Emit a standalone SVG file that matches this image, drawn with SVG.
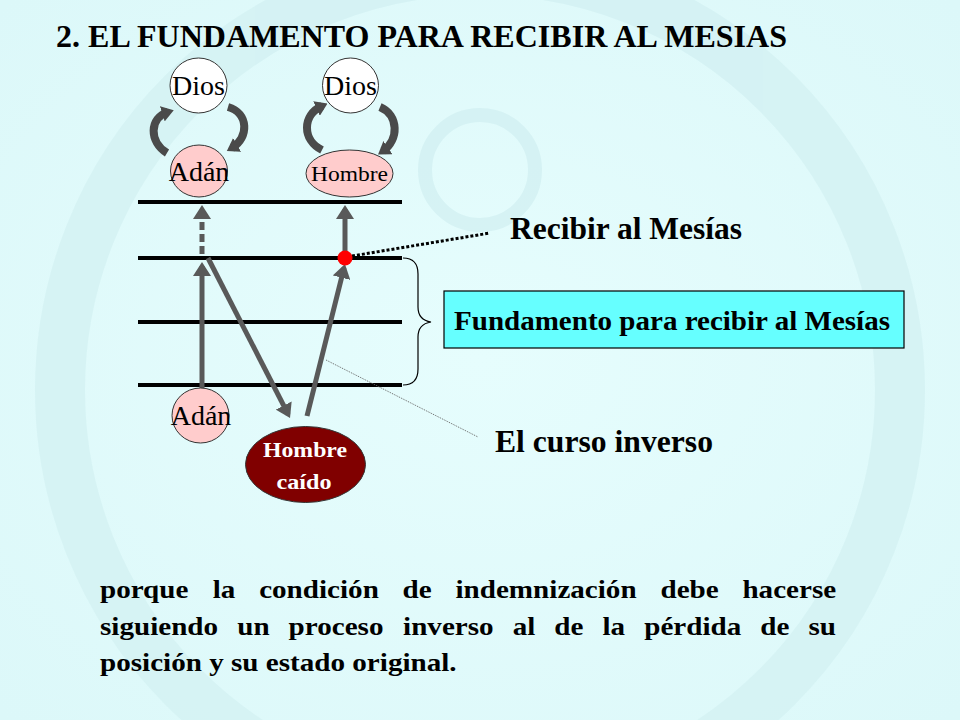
<svg xmlns="http://www.w3.org/2000/svg" width="960" height="720" viewBox="0 0 960 720">
  <style>
    .serif { font-family: "Liberation Serif", "Times New Roman", serif; }
    .bold { font-weight: bold; }
    .hline { stroke: #000; stroke-width: 4; }
    .arrow { stroke: #595959; stroke-width: 5; fill: none; marker-end: url(#ah); }
    .curve { stroke: #4a4a4a; stroke-width: 8; fill: none; marker-end: url(#ah2); }
    .node-white { fill: #ffffff; stroke: #333; stroke-width: 1; }
    .node-pink { fill: #ffcccc; stroke: #333; stroke-width: 1; }
    .node-dark { fill: #800000; stroke: #333; stroke-width: 1; }
    .lbl { font-size: 28px; fill: #000; text-anchor: middle; }
    .para { font-size: 26px; font-weight: bold; fill: #000; }
  </style>
  <defs>
    <marker id="ah" viewBox="0 0 14 18" refX="10" refY="9" markerWidth="14" markerHeight="18" markerUnits="userSpaceOnUse" orient="auto">
      <path d="M0,0 L14,9 L0,18 z" fill="#595959"/>
    </marker>
    <marker id="ah2" viewBox="0 0 12 16" refX="6" refY="8" markerWidth="12" markerHeight="16" markerUnits="userSpaceOnUse" orient="auto">
      <path d="M0,0 L12,8 L0,16 z" fill="#4a4a4a"/>
    </marker>
    <radialGradient id="bg" cx="0.5" cy="0.5" r="0.7">
      <stop offset="0" stop-color="#e6fdfd"/>
      <stop offset="1" stop-color="#dcf8f9"/>
    </radialGradient>
  </defs>

  <!-- background -->
  <rect x="0" y="0" width="960" height="720" fill="url(#bg)"/>
  <g id="watermark" fill="none" stroke="#d3f1f3" opacity="0.8">
    <circle cx="480" cy="390" r="420" stroke-width="50"/>
    <circle cx="480" cy="170" r="55" stroke-width="14"/>
  </g>

  <!-- title -->
  <text class="serif bold" x="56" y="47" font-size="31" textLength="731" lengthAdjust="spacingAndGlyphs">2. EL FUNDAMENTO PARA RECIBIR AL MESIAS</text>

  <!-- horizontal levels -->
  <g id="levels">
    <line class="hline" x1="138" y1="202" x2="402" y2="202"/>
    <line class="hline" x1="138" y1="258" x2="402" y2="258"/>
    <line class="hline" x1="138" y1="322" x2="402" y2="322"/>
    <line class="hline" x1="138" y1="385" x2="402" y2="385"/>
  </g>

  <!-- connectors -->
  <g id="connectors">
    <path class="curve" d="M167,153 C149,142 149,118 168,112"/>
    <path class="curve" d="M228,107 C249,113 249,138 232,148"/>
    <path class="curve" d="M322,150 C302,140 302,115 322,106"/>
    <path class="curve" d="M380,107 C399,115 399,140 383,151"/>

    <line class="arrow" x1="202" y1="388" x2="202" y2="266"/>
    <line class="arrow" x1="202" y1="254" x2="202" y2="209" stroke-dasharray="8 4"/>
    <line class="arrow" x1="208" y1="258" x2="288.2" y2="414.4"/>
    <line class="arrow" x1="307" y1="416" x2="344" y2="268"/>
    <line class="arrow" x1="345" y1="258" x2="345" y2="209"/>

    <line x1="352" y1="256" x2="490" y2="233" stroke="#000" stroke-width="3" stroke-dasharray="3 2"/>
    <line x1="326" y1="360" x2="478" y2="437" stroke="#666" stroke-width="1" stroke-dasharray="1 1"/>
    <path d="M403,258 Q418,258 418,274 L418,307 Q418,320 431,322 Q418,324 418,337 L418,369 Q418,385 403,385" fill="none" stroke="#000" stroke-width="1.2"/>
  </g>

  <circle id="red-dot" cx="345" cy="258" r="7.5" fill="#ff0000"/>

  <!-- nodes -->
  <g id="dios-left">
    <ellipse class="node-white" cx="198.5" cy="85.5" rx="28.5" ry="27.5"/>
    <text class="serif lbl" x="198.5" y="95">Dios</text>
  </g>
  <g id="dios-right">
    <ellipse class="node-white" cx="350.5" cy="85.5" rx="28" ry="27.5"/>
    <text class="serif lbl" x="350.5" y="95">Dios</text>
  </g>
  <g id="adan-top">
    <ellipse class="node-pink" cx="199" cy="171" rx="28.5" ry="26"/>
    <text class="serif lbl" x="199" y="181">Adán</text>
  </g>
  <g id="hombre-top">
    <ellipse class="node-pink" cx="349.5" cy="173.5" rx="43.5" ry="23.5"/>
    <text class="serif" x="349.5" y="181" font-size="21" text-anchor="middle" textLength="77" lengthAdjust="spacingAndGlyphs">Hombre</text>
  </g>
  <g id="adan-bottom">
    <ellipse class="node-pink" cx="200.5" cy="415.5" rx="28.5" ry="27.5"/>
    <text class="serif lbl" x="201" y="425">Adán</text>
  </g>
  <g id="hombre-caido">
    <ellipse class="node-dark" cx="305.5" cy="464.5" rx="60" ry="38"/>
    <text class="serif bold" x="305" y="457" font-size="22" fill="#fff" text-anchor="middle" textLength="84" lengthAdjust="spacingAndGlyphs">Hombre</text>
    <text class="serif bold" x="304" y="489" font-size="22" fill="#fff" text-anchor="middle" textLength="55" lengthAdjust="spacingAndGlyphs">caído</text>
  </g>

  <g id="recibir">
    <text class="serif bold" x="510" y="239" font-size="31" textLength="232" lengthAdjust="spacingAndGlyphs">Recibir al Mesías</text>
  </g>
  <g id="fundamento">
    <rect x="444" y="291" width="460" height="57" fill="#66ffff" stroke="#000" stroke-width="1.2"/>
    <text class="serif bold" x="454" y="330" font-size="28" textLength="436" lengthAdjust="spacingAndGlyphs">Fundamento para recibir al Mesías</text>
  </g>
  <g id="curso">
    <text class="serif bold" x="495" y="452" font-size="31" textLength="218" lengthAdjust="spacingAndGlyphs">El curso inverso</text>
  </g>

  <!-- paragraph (slightly widened, justified) -->
  <g id="paragraph" class="serif" transform="translate(100,0) scale(1.12,1) translate(-100,0)">
    <text class="para" y="598">
      <tspan x="100">porque</tspan><tspan x="200.7">la</tspan><tspan x="242.1">condición</tspan><tspan x="370.2">de</tspan><tspan x="417.4">indemnización</tspan><tspan x="600.4">debe</tspan><tspan x="673.6">hacerse</tspan>
    </text>
    <text class="para" y="635">
      <tspan x="100">siguiendo</tspan><tspan x="222.5">un</tspan><tspan x="268.4">proceso</tspan><tspan x="370.6">inverso</tspan><tspan x="468.5">al</tspan><tspan x="505.7">de</tspan><tspan x="548.7">la</tspan><tspan x="585.9">pérdida</tspan><tspan x="689.6">de</tspan><tspan x="732.6">su</tspan>
    </text>
    <text class="para" x="100" y="671">posición y su estado original.</text>
  </g>
</svg>
